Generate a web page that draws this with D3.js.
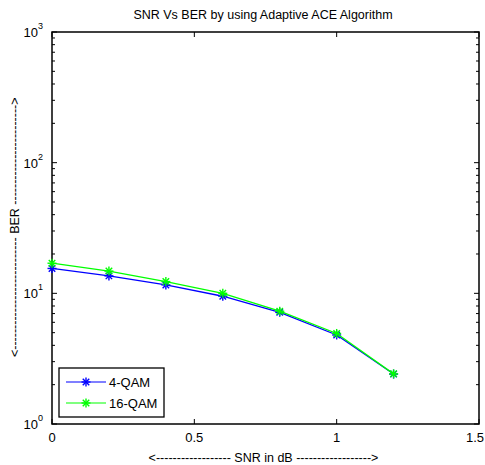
<!DOCTYPE html>
<html><head><meta charset="utf-8">
<script src="https://cdn.jsdelivr.net/npm/d3@7"></script>
<style>body{margin:0;background:#fff}svg{display:block;font-family:"Liberation Sans",Arial,sans-serif}</style>
</head><body><svg id="c" width="485" height="465"></svg>
<script>
const snr = [0, 0.2, 0.4, 0.6, 0.8, 1.0, 1.2];
const ber4 = [15.5, 13.6, 11.6, 9.5, 7.15, 4.8, 2.41];
const ber16 = [17.0, 14.8, 12.3, 10.0, 7.3, 4.93, 2.42];
const xTicks = [0, 0.5, 1, 1.5];
const xTickLabels = ["0", "0.5", "1", "1.5"];
const yDecades = [0, 1, 2, 3];
const seriesNames = ["4-QAM", "16-QAM"];
const seriesColors = ["#0000ff", "#00ff00"];

const svg = d3.select("#c");
const L = 52, R = 479, T = 32, B = 424;
const x = d3.scaleLinear().domain([0, 1.5]).range([L, R]);
const y = d3.scaleLog().domain([1, 1000]).range([B, T]);

// ticks
const tl = 5, tlMinor = 3;
const g = svg.append("g").attr("stroke", "#000").attr("stroke-width", 1);
xTicks.forEach(v => {
  g.append("line").attr("x1", x(v)).attr("x2", x(v)).attr("y1", B).attr("y2", B - tl);
  g.append("line").attr("x1", x(v)).attr("x2", x(v)).attr("y1", T).attr("y2", T + tl);
});
yDecades.forEach(d => {
  for (let m = 1; m <= 9; m++) {
    const v = m * Math.pow(10, d);
    if (v > 1000) break;
    const len = m === 1 ? tl : tlMinor;
    g.append("line").attr("x1", L).attr("x2", L + len).attr("y1", y(v)).attr("y2", y(v));
    g.append("line").attr("x1", R).attr("x2", R - len).attr("y1", y(v)).attr("y2", y(v));
  }
});
svg.append("rect").attr("x", L).attr("y", T).attr("width", R - L).attr("height", B - T)
  .attr("fill", "none").attr("stroke", "#000").attr("stroke-width", 1.5);

// tick labels
xTicks.forEach((v, i) => {
  const last = i === xTicks.length - 1;
  svg.append("text").attr("x", last ? 484 : x(v)).attr("y", B + 18)
    .attr("text-anchor", last ? "end" : "middle")
    .attr("font-size", 13).text(xTickLabels[i]);
});
yDecades.forEach(d => {
  const t = svg.append("text").attr("x", L - 9).attr("y", y(Math.pow(10, d)) + 5)
    .attr("text-anchor", "end").attr("font-size", 13);
  t.append("tspan").text("10");
  t.append("tspan").attr("dy", -8).attr("font-size", 9).text(d);
});

// title & labels
svg.append("text").attr("x", 263).attr("y", 19).attr("text-anchor", "middle")
  .attr("font-size", 12.5).text("SNR Vs BER by using Adaptive ACE Algorithm");
svg.append("text").attr("x", 263.5).attr("y", 462).attr("text-anchor", "middle")
  .attr("font-size", 12.5).text("<------------------ SNR in dB ------------------>");
svg.append("text").attr("transform", `translate(19,357) rotate(-90)`)
  .attr("text-anchor", "start").attr("font-size", 12.5)
  .text("<" + "-".repeat(27) + " BER " + "-".repeat(24) + ">");

// series
const datasets = [ber4, ber16];
function star(sel, cx, cy, col) {
  const s = 4.5;
  const p = sel.append("g").attr("stroke", col).attr("stroke-width", 1.4);
  p.append("line").attr("x1", cx - s).attr("x2", cx + s).attr("y1", cy).attr("y2", cy);
  p.append("line").attr("x1", cx).attr("x2", cx).attr("y1", cy - s).attr("y2", cy + s);
  const d = s * 0.72;
  p.append("line").attr("x1", cx - d).attr("x2", cx + d).attr("y1", cy - d).attr("y2", cy + d);
  p.append("line").attr("x1", cx - d).attr("x2", cx + d).attr("y1", cy + d).attr("y2", cy - d);
}
const line = d3.line().x(d => x(d[0])).y(d => y(d[1]));
datasets.forEach((vals, i) => {
  const pts = snr.map((s, j) => [s, vals[j]]);
  svg.append("path").attr("d", line(pts)).attr("fill", "none")
    .attr("stroke", seriesColors[i]).attr("stroke-width", 1.3);
  pts.forEach(p => star(svg, x(p[0]), y(p[1]), seriesColors[i]));
});

// legend
const lx = 59, ly = 368, lw = 105, lh = 49;
svg.append("rect").attr("x", lx).attr("y", ly).attr("width", lw).attr("height", lh)
  .attr("fill", "#fff").attr("stroke", "#000").attr("stroke-width", 1.3);
seriesNames.forEach((n, i) => {
  const yy = ly + 14 + i * 21;
  svg.append("line").attr("x1", 66).attr("x2", 106).attr("y1", yy).attr("y2", yy)
    .attr("stroke", seriesColors[i]).attr("stroke-width", 1.2);
  star(svg, 86, yy, seriesColors[i]);
  svg.append("text").attr("x", 109).attr("y", yy + 5).attr("font-size", 13).text(n);
});
</script></body></html>
